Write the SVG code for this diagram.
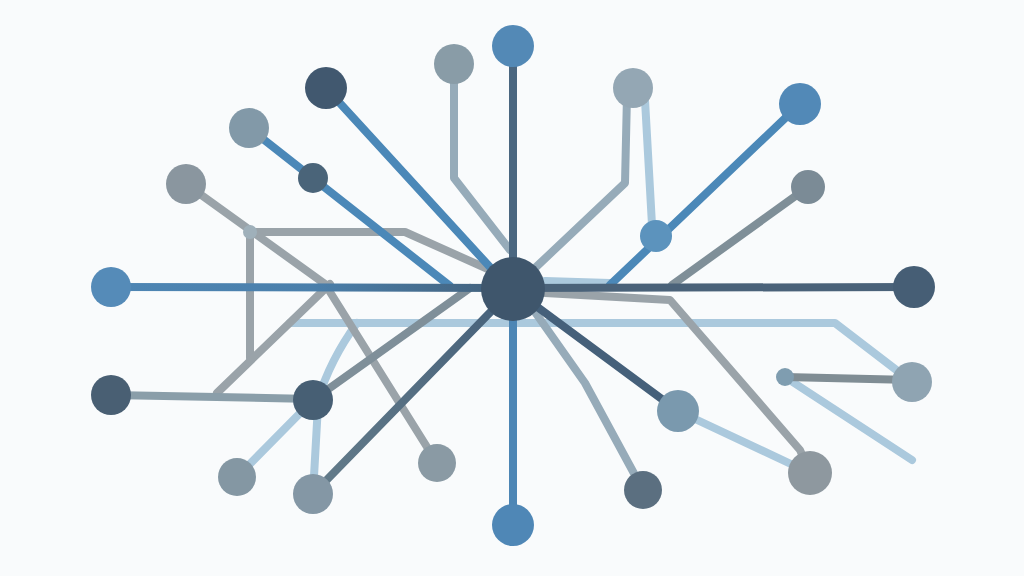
<svg xmlns="http://www.w3.org/2000/svg" width="1024" height="576" viewBox="0 0 1024 576">
<style>
.c{fill:none;stroke-width:8;stroke-linecap:round;stroke-linejoin:round}
.lb{stroke:#abc9dd}
.gr{stroke:#9aa3a9}
.gb{stroke:#96abb9}
.bl{stroke:#4b88b8}
.dk{stroke:#4a6379}
</style>
<rect width="1024" height="576" fill="#f9fbfc"/>
<g id="connectors">
<!-- light background lines -->
<polyline class="c lb" points="290,323 835,323 912,382"/>
<path class="c lb" d="M357,323 Q330,360 318,400"/>
<line class="c lb" x1="313" y1="400" x2="237" y2="477"/>
<line class="c lb" x1="318" y1="405" x2="313" y2="494"/>
<line class="c lb" x1="645" y1="100" x2="652" y2="225"/>
<line class="c lb" x1="678" y1="411" x2="810" y2="473"/>
<line class="c lb" x1="785" y1="377" x2="912" y2="460"/>
<line class="c lb" x1="545" y1="281" x2="610" y2="283"/>
<!-- gray structure left -->
<polyline class="c gr" points="250,232 405,232 490,270"/>
<polyline class="c gr" points="250,232 250,358"/>
<line class="c gr" x1="330" y1="284" x2="217" y2="393"/>
<polyline class="c gr" points="186,184 325,284 437,463"/>
<line class="c" stroke="#8a9ea9" x1="111" y1="395" x2="313" y2="399"/>
<line class="c" stroke="#7f8f99" x1="313" y1="400" x2="470" y2="288"/>
<!-- upper -->
<polyline class="c gb" points="454,64 454,178 510,250"/>
<polyline class="c gb" points="627,95 625,183 535,268"/>
<line class="c" stroke="#7f8f98" x1="808" y1="187" x2="672" y2="285"/>
<line class="c bl" x1="800" y1="104" x2="610" y2="285"/>
<line class="c bl" x1="326" y1="88" x2="500" y2="278"/>
<line class="c bl" x1="249" y1="128" x2="450" y2="286"/>
<!-- lower right -->
<polyline class="c gr" points="545,293 670,300 800,450 810,473"/>
<polyline class="c gb" points="530,305 585,383 643,490"/>
<line class="c" stroke="#808d94" x1="785" y1="377" x2="912" y2="380"/>
<!-- main axes -->
<line class="c" stroke="#4b6780" x1="513" y1="46" x2="513" y2="289"/>
<line class="c" stroke="#4d86b5" x1="513" y1="289" x2="513" y2="525"/>
<line class="c" stroke="#4a6279" x1="513" y1="288" x2="914" y2="287"/>
<defs>
<linearGradient id="hl" x1="111" y1="0" x2="513" y2="0" gradientUnits="userSpaceOnUse">
<stop offset="0" stop-color="#4e86b4"/><stop offset="0.5" stop-color="#4a7fab"/><stop offset="1" stop-color="#43607a"/>
</linearGradient>
<linearGradient id="dl" x1="513" y1="289" x2="313" y2="494" gradientUnits="userSpaceOnUse">
<stop offset="0" stop-color="#45607a"/><stop offset="1" stop-color="#647c8a"/>
</linearGradient>
</defs>
<line class="c" stroke="url(#hl)" x1="111" y1="287" x2="513" y2="288"/>
<line class="c" stroke="url(#dl)" x1="513" y1="289" x2="313" y2="494"/>
<line class="c" stroke="#45607a" x1="513" y1="289" x2="678" y2="411"/>
</g>
<g id="n-center"><circle cx="513" cy="289" r="32" fill="#3f566c"/></g>
<g id="n-top"><circle cx="513" cy="46" r="21" fill="#5389b6"/></g>
<g id="n-bottom"><circle cx="513" cy="525" r="21" fill="#4f87b6"/></g>
<g id="n-left"><circle cx="111" cy="287" r="20" fill="#558bb8"/></g>
<g id="n-right"><circle cx="914" cy="287" r="21" fill="#465e75"/></g>
<g id="n-tl1"><circle cx="326" cy="88" r="21" fill="#41586f"/></g>
<g id="n-tl2"><circle cx="249" cy="128" r="20" fill="#8299a8"/></g>
<g id="n-tl3"><circle cx="313" cy="178" r="15" fill="#4a6479"/></g>
<g id="n-tl4"><circle cx="186" cy="184" r="20" fill="#8a969f"/></g>
<g id="n-junc"><circle cx="250" cy="232" r="7" fill="#9fb0ba"/></g>
<g id="n-t2"><circle cx="454" cy="64" r="20" fill="#899ca7"/></g>
<g id="n-t3"><circle cx="633" cy="88" r="20" fill="#94a7b4"/></g>
<g id="n-tr1"><circle cx="800" cy="104" r="21" fill="#5289b7"/></g>
<g id="n-tr2"><circle cx="656" cy="236" r="16" fill="#5c93bd"/></g>
<g id="n-tr3"><circle cx="808" cy="187" r="17" fill="#7b8b96"/></g>
<g id="n-bl1"><circle cx="111" cy="395" r="20" fill="#495f73"/></g>
<g id="n-bl2"><circle cx="313" cy="400" r="20" fill="#475f74"/></g>
<g id="n-bl3"><circle cx="237" cy="477" r="19" fill="#8497a3"/></g>
<g id="n-bl4"><circle cx="313" cy="494" r="20" fill="#8497a5"/></g>
<g id="n-bl5"><circle cx="437" cy="463" r="19" fill="#8a9aa4"/></g>
<g id="n-br1"><circle cx="678" cy="411" r="21" fill="#7a99ae"/></g>
<g id="n-br2"><circle cx="643" cy="490" r="19" fill="#5b6f80"/></g>
<g id="n-br3"><circle cx="810" cy="473" r="22" fill="#8e989f"/></g>
<g id="n-br4"><circle cx="785" cy="377" r="9" fill="#7f9db0"/></g>
<g id="n-br5"><circle cx="912" cy="382" r="20" fill="#8fa4b2"/></g>
</svg>
